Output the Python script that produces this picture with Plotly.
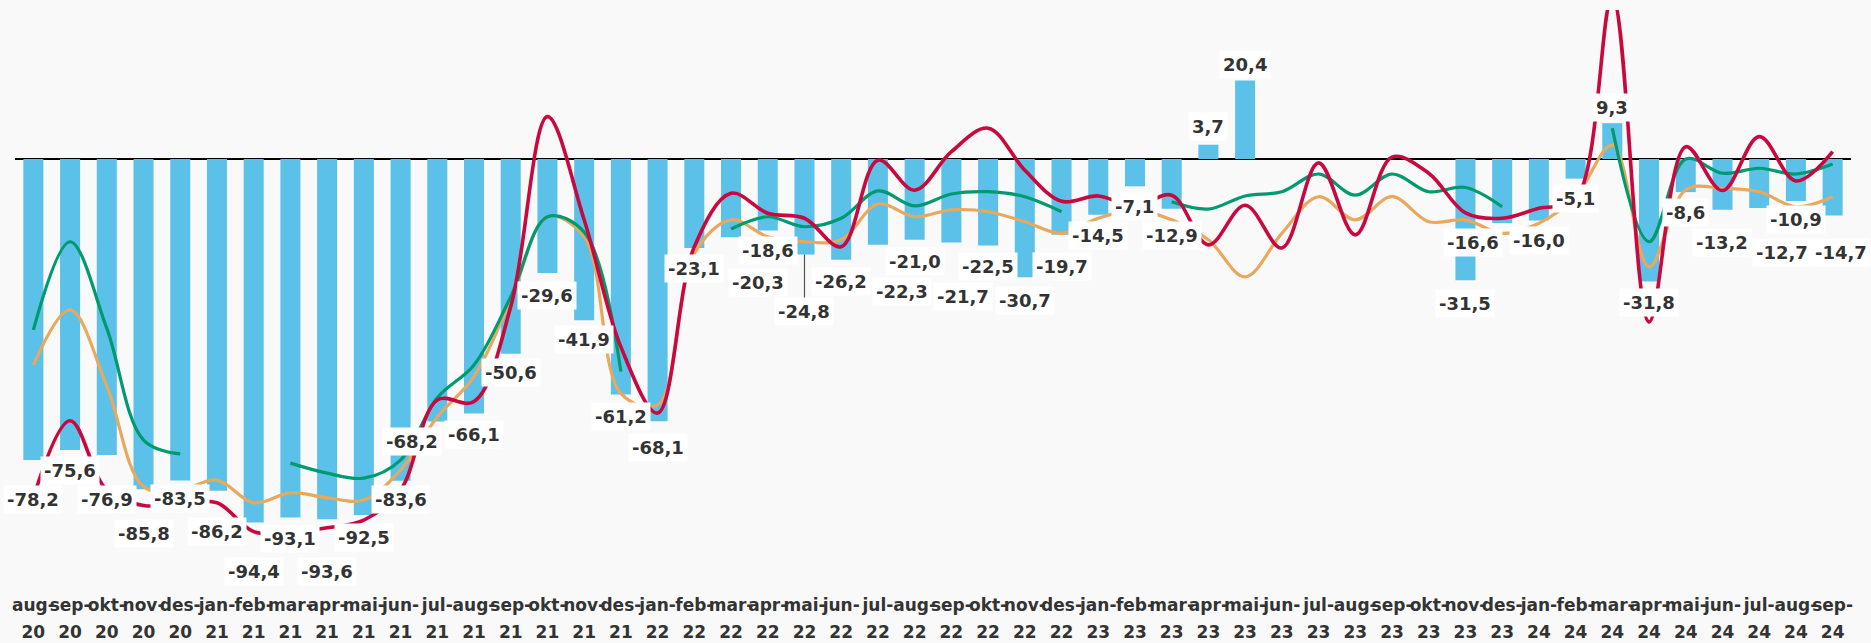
import plotly.graph_objects as go

# ---------------- data ----------------
months = ["aug-20", "sep-20", "okt-20", "nov-20", "des-20",
          "jan-21", "feb-21", "mar-21", "apr-21", "mai-21", "jun-21", "jul-21",
          "aug-21", "sep-21", "okt-21", "nov-21", "des-21",
          "jan-22", "feb-22", "mar-22", "apr-22", "mai-22", "jun-22", "jul-22",
          "aug-22", "sep-22", "okt-22", "nov-22", "des-22",
          "jan-23", "feb-23", "mar-23", "apr-23", "mai-23", "jun-23", "jul-23",
          "aug-23", "sep-23", "okt-23", "nov-23", "des-23",
          "jan-24", "feb-24", "mar-24", "apr-24", "mai-24", "jun-24", "jul-24",
          "aug-24", "sep-24"]

bar_values = [-78.2, -75.6, -76.9, -85.8, -83.5,
              -86.2, -94.4, -93.1, -93.6, -92.5, -83.6, -68.2,
              -66.1, -50.6, -29.6, -41.9, -61.2,
              -68.1, -23.1, -20.3, -18.6, -24.8, -26.2, -22.3,
              -21.0, -21.7, -22.5, -30.7, -19.7,
              -14.5, -7.1, -12.9, 3.7, 20.4, None, None,
              None, None, None, -31.5, -16.6,
              -16.0, -5.1, 9.3, -31.8, -8.6, -13.2, -12.7,
              -10.9, -14.7]

red_values = [-88, -68, -86, -90, -89.5,
              -89.3, -96.8, -97, -95.8, -93.8, -86, -62.6,
              -63, -38.4, 11, -15.8, -48.8,
              -66, -22.8, -8.9, -14.1, -15.4, -22.8, -0.3,
              -8.1, 1.9, 8, -2.9, -11,
              -9.6, -12.4, -9.4, -22.3, -12, -23.1, -1,
              -19.7, 0.5, -3.7, -14, -15.4,
              -12.8, -10.6, 42, -42.3, 3.2, -8.2, 5.8,
              -5.7, 1.9]

green_values = [-44.4, -21.5, -44, -73, -76.6,
                None, None, -79, -81.6, -82.9, -78.2, -62,
                -53.5, -35.8, -15, -19, -55.2,
                None, None, -18.2, -15, -17.6, -15.4, -8.3,
                -12.2, -9.1, -8.5, -9.8, -13.7,
                None, None, -11.1, -13, -9.6, -8.5, -3.9,
                -9.4, -3.9, -8.5, -7.4, -12.4,
                None, None, 8, -21.5, 0, -3.7, -2.4,
                -3.9, -1.3]

orange_values = [-53.5, -39.2, -59, -85.1, -86,
                 -83.4, -89.3, -86.7, -88, -88.6, -80.8, -67,
                 -56.5, -36.6, -15, -20.2, -60.9,
                 -63.9, -24.5, -15.8, -20.2, -21.5, -21, -11.7,
                 -15, -13.2, -13.7, -16.3, -19.3,
                 -15.4, -13.2, -15.8, -21, -30.6, -19.3, -9.8,
                 -15.8, -9.8, -16.3, -15.8, -19.3,
                 -16.7, -9.8, 3.6, -28, -8, -7.6, -8.5,
                 -12.4, -9.8]

# label placement (styling): pixel offsets from bar end
label_dy = [39, 20, 44, 44, 18,
            41, 49, 21, 52, 22, 19, 20,
            21, 19, 23, 19, 22,
            26, 21, 45, 20, 57, 22, 47,
            22, 54, 21, 23, 32,
            21, 20, 27, -18, -16, 0, 0,
            0, 0, 0, 23, 20,
            20, 20, -16, 21, 20, 33, 45,
            19, 37]
label_dx = [0] * 50
label_dx[11] = -25
label_dx[19] = 27
label_dx[23] = 24
label_dx[25] = 12
label_dx[40] = -29
label_dx[47] = 23
label_dx[49] = 8
leader_idx = [21]

# ---------------- figure ----------------
x_idx = list(range(len(months)))
month_text = [m.split("-")[0] + "-" for m in months]
year_text = [m.split("-")[1] for m in months]

FONT = "DejaVu Sans"
TXT = "#333333"

fig = go.Figure()
fig.add_trace(go.Bar(x=x_idx, y=bar_values, marker_color="#5BC1E8",
                     marker_line_width=0, showlegend=False, hoverinfo="skip"))
fig.add_trace(go.Scatter(x=x_idx, y=orange_values, mode="lines",
                         line=dict(color="#E8A85E", width=3.2, shape="spline", smoothing=1.0),
                         connectgaps=False, showlegend=False))
fig.add_trace(go.Scatter(x=x_idx, y=green_values, mode="lines",
                         line=dict(color="#009A70", width=3.2, shape="spline", smoothing=1.0),
                         connectgaps=False, showlegend=False))
fig.add_trace(go.Scatter(x=x_idx, y=red_values, mode="lines",
                         line=dict(color="#C8083E", width=3.6, shape="spline", smoothing=1.0),
                         connectgaps=False, showlegend=False))
# dummy trace to carry the year axis
fig.add_trace(go.Scatter(x=x_idx, y=[None] * len(x_idx), xaxis="x2", mode="lines",
                         showlegend=False, hoverinfo="skip"))

def fmt(v):
    return ("%.1f" % v).replace(".", ",")

annotations = []
for i, v in enumerate(bar_values):
    if v is None:
        continue
    dy = label_dy[i]
    common = dict(x=i, y=v, xref="x", yref="y", text=fmt(v),
                  font=dict(family=FONT, size=18, color=TXT, weight="bold"),
                  bgcolor="#FFFFFF", borderpad=3)
    if i in leader_idx:
        annotations.append(dict(**common, showarrow=True, arrowhead=0, arrowwidth=1.2,
                                arrowcolor="#555555", ax=label_dx[i], ay=dy, standoff=0))
    else:
        annotations.append(dict(**common, showarrow=False, xanchor="center",
                                yanchor="middle", xshift=label_dx[i], yshift=-dy))

y_top = 38.7
y_bot = -111.95

fig.update_layout(
    width=1871, height=643,
    margin=dict(l=15, r=20, t=10, b=53, autoexpand=False),
    paper_bgcolor="#F9F9F9", plot_bgcolor="#F9F9F9",
    bargap=0.455,
    annotations=annotations,
    xaxis=dict(range=[-0.5, len(months) - 0.5], tickmode="array", tickvals=x_idx,
               ticktext=month_text, tickangle=0, showgrid=False, zeroline=False,
               showline=False, ticks="", ticklabelstandoff=3, automargin=False,
               tickfont=dict(family=FONT, size=17, color=TXT, weight="bold")),
    xaxis2=dict(range=[-0.5, len(months) - 0.5], overlaying="x", anchor="y", side="bottom",
                tickmode="array", tickvals=x_idx, ticktext=year_text, tickangle=0,
                showgrid=False, zeroline=False, showline=False, ticks="",
                ticklabelstandoff=30, automargin=False,
                tickfont=dict(family=FONT, size=17, color=TXT, weight="bold")),
    yaxis=dict(range=[y_bot, y_top], showgrid=False, showticklabels=False,
               automargin=False,
               zeroline=True, zerolinecolor="#000000", zerolinewidth=2),
)

fig.write_html("out.html", config={"displayModeBar": False},
               post_script="document.body.style.margin='0';document.body.style.overflow='hidden';")
